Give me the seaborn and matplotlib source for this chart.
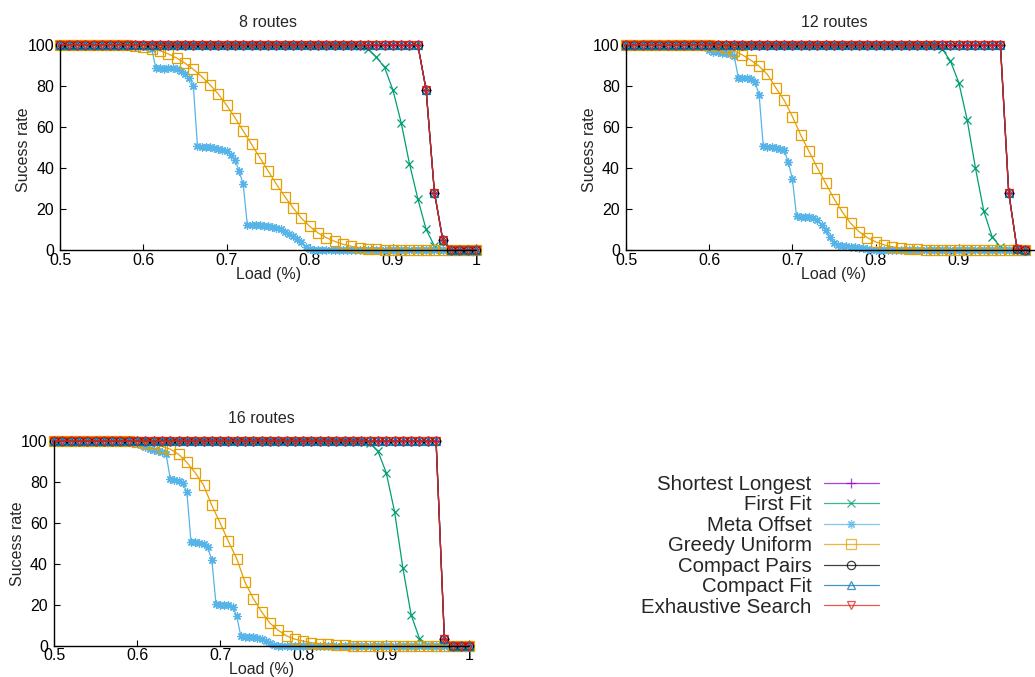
import matplotlib
matplotlib.use("Agg")
import matplotlib.pyplot as plt
import seaborn as sns
from matplotlib.lines import Line2D

# ---------------- data ----------------
# load grid (1 % steps) used by most heuristics
LOAD_A = [0.50, 0.51, 0.52, 0.53, 0.54, 0.55, 0.56, 0.57, 0.58, 0.59,
          0.60, 0.61, 0.62, 0.63, 0.64, 0.65, 0.66, 0.67, 0.68, 0.69,
          0.70, 0.71, 0.72, 0.73, 0.74, 0.75, 0.76, 0.77, 0.78, 0.79,
          0.80, 0.81, 0.82, 0.83, 0.84, 0.85, 0.86, 0.87, 0.88, 0.89,
          0.90, 0.91, 0.92, 0.93, 0.94, 0.95, 0.96, 0.97, 0.98, 0.99, 1.00]
# finer load grid (0.5 % steps) used by Meta Offset
LOAD_B = [0.500, 0.505, 0.510, 0.515, 0.520, 0.525, 0.530, 0.535, 0.540, 0.545,
          0.550, 0.555, 0.560, 0.565, 0.570, 0.575, 0.580, 0.585, 0.590, 0.595,
          0.600, 0.605, 0.610, 0.615, 0.620, 0.625, 0.630, 0.635, 0.640, 0.645,
          0.650, 0.655, 0.660, 0.665, 0.670, 0.675, 0.680, 0.685, 0.690, 0.695,
          0.700, 0.705, 0.710, 0.715, 0.720, 0.725, 0.730, 0.735, 0.740, 0.745,
          0.750, 0.755, 0.760, 0.765, 0.770, 0.775, 0.780, 0.785, 0.790, 0.795,
          0.800, 0.805, 0.810, 0.815, 0.820, 0.825, 0.830, 0.835, 0.840, 0.845,
          0.850, 0.855, 0.860, 0.865, 0.870, 0.875, 0.880, 0.885, 0.890, 0.895,
          0.900, 0.905, 0.910, 0.915, 0.920, 0.925, 0.930, 0.935, 0.940, 0.945,
          0.950, 0.955, 0.960, 0.965, 0.970, 0.975, 0.980, 0.985, 0.990, 0.995, 1.000]

SERIES = ["Shortest Longest", "First Fit", "Meta Offset", "Greedy Uniform",
          "Compact Pairs", "Compact Fit", "Exhaustive Search"]
COLORS = ["#9400D3", "#009E73", "#56B4E9", "#E69F00", "#000000", "#0072B2", "#E51E10"]

# ---- 8 routes ----
top_8 = [100] * 44 + [78, 28, 5] + [0] * 4
ff_8 = [100] * 36 + [99.5, 98, 94, 89, 78, 62, 42, 25, 10, 2] + [0] * 5
gu_8 = [100] * 8 + [99.8, 99.5, 99, 98, 97, 95.5, 93.5, 91, 88, 84.5, 80.5, 76,
                    70.5, 64.5, 58, 51.5, 45, 38.5, 32, 26, 20.5, 15.5, 11.5, 8.3,
                    6, 4.2, 2.8, 1.8, 1.2, 0.7, 0.4, 0.2, 0.1] + [0] * 10
mo_8 = [100] * 20 + [99.5, 99, 98, 88.5, 88.5, 88, 88.5, 88.5, 88, 87, 85.5, 84, 80,
                     50.5, 50, 50, 50, 49.5, 49, 48.5, 48, 46.5, 44, 38.5, 32, 12,
                     12, 12, 12, 11.8, 11.5, 11.2, 10.8, 10, 9, 8, 7, 5.5, 4, 1.5,
                     0.3] + [0] * 40

# ---- 12 routes (plot cut at load 0.98) ----
top_12 = [100] * 46 + [28, 0.5, 0]
ff_12 = [100] * 37 + [99.7, 98, 92, 81.5, 63.5, 40, 19, 6.5, 1.5] + [0] * 3
gu_12 = [100] * 11 + [99.5, 98.5, 97, 95, 92.5, 89.5, 85.5, 79, 73, 65, 56, 48, 40,
                      32.5, 25, 18.5, 13, 9, 6, 4, 2.5, 1.5, 1, 0.5, 0.3, 0.1] + [0] * 12
mo_12 = [100] * 19 + [99, 97.5, 96.5, 96.5, 96, 96, 95.5, 94.5, 84, 84, 84, 83.5, 82,
                      75.5, 50.5, 50, 50, 49.5, 49.2, 48.5, 43, 34.5, 16.5, 16.3, 16.3,
                      16.2, 15.5, 14.5, 12, 9.5, 6.5, 3.5, 2.4, 2, 1.8, 1.6, 1.4, 1,
                      0.8, 0.4] + [0] * 38

# ---- 16 routes ----
top_16 = [100] * 47 + [3.5] + [0] * 3
ff_16 = [100] * 38 + [99, 95, 84.5, 65.5, 38, 15, 3.5, 0.5] + [0] * 5
gu_16 = [100] * 9 + [99.8, 99.5, 99, 98.3, 97.3, 96, 93.5, 89.5, 84.5, 78.5, 68.5, 60,
                     51, 42.5, 31, 23, 16.5, 11, 7.5, 4.8, 3.2, 2.2, 1.5, 1, 0.6, 0.3,
                     0.1] + [0] * 15
mo_16 = [100] * 20 + [99, 98, 97, 96, 95.5, 95, 94.5, 93.5, 81.5, 81, 80.5, 79.5, 75,
                      50.5, 50.5, 50, 49.5, 48, 42, 20.5, 20, 20, 19.8, 19, 14.5, 4.5,
                      4.4, 4.4, 4.2, 3.8, 3.2, 2.2, 1.2, 0.4] + [0] * 47

PANELS = [
    ("8 routes", [top_8, ff_8, mo_8, gu_8, top_8, top_8, top_8]),
    ("12 routes", [top_12, ff_12, mo_12, gu_12, top_12, top_12, top_12]),
    ("16 routes", [top_16, ff_16, mo_16, gu_16, top_16, top_16, top_16]),
]
XTICKS = [0.5, 0.6, 0.7, 0.8, 0.9, 1.0]
XTICK_LABELS = ["0.5", "0.6", "0.7", "0.8", "0.9", "1"]
# the 12-routes plot runs off the page edge, so its last label is not visible
XTICK_LABELS_CUT = ["0.5", "0.6", "0.7", "0.8", "0.9", ""]
YTICKS = [0, 20, 40, 60, 80, 100]

# ---------------- style ----------------
sns.set_style("white")
plt.rcParams["font.family"] = ["Liberation Sans", "DejaVu Sans"]
FS = 11.5
MARKERS = ["+", "x", (8, 2, 0), "s", "o", "^", "v"]
MSIZES = [7, 6, 6, 6.5, 6, 6, 6]

W, H = 1035, 677
fig = plt.figure(figsize=(W / 100, H / 100), dpi=100)


def px_axes(left, top, right, bottom):
    return fig.add_axes([left / W, 1 - bottom / H, (right - left) / W, (bottom - top) / H])


# pixel boxes of the three plots (the 12-routes plot is cut by the right page edge)
BOXES = [(60.3, 44.7, 476.0, 250.0), (626.0, 44.7, 1042.0, 250.0), (54.0, 441.0, 469.3, 645.7)]
YLAB_POS = [(-0.0897, 0.49), (-0.0889, 0.49), (-0.0884, 0.497)]
XLAB_Y = [-0.119, -0.119, -0.114]
TITLE_Y = [1.1086, 1.108, 1.1075]
TICKLABS = [XTICK_LABELS, XTICK_LABELS_CUT, XTICK_LABELS]

for (title, series), box, ylp, xly, ty, tl in zip(PANELS, BOXES, YLAB_POS, XLAB_Y,
                                                   TITLE_Y, TICKLABS):
    ax = px_axes(*box)
    for name, vals, col, mk, ms in zip(SERIES, series, COLORS, MARKERS, MSIZES):
        xs = (LOAD_B if name == "Meta Offset" else LOAD_A)[:len(vals)]
        sns.lineplot(x=xs, y=vals, ax=ax, color=col, marker=mk, markersize=ms,
                     markeredgecolor=col, markerfacecolor="none", markeredgewidth=0.9,
                     linewidth=0.9, legend=False, estimator=None, sort=False,
                     clip_on=False)
    ax.set_xlim(0.5, 1.0)
    ax.set_ylim(0, 100)
    ax.set_xticks(XTICKS)
    ax.set_xticklabels(tl)
    ax.set_yticks(YTICKS)
    ax.tick_params(axis="both", direction="in", length=4, width=0.8,
                   labelsize=FS, colors="black", bottom=True, left=True)
    ax.tick_params(axis="x", pad=2)
    ax.tick_params(axis="y", pad=4.5)
    sns.despine(ax=ax)
    for sp in ("left", "bottom"):
        ax.spines[sp].set_color("black")
        ax.spines[sp].set_linewidth(1.0)
    ax.set_xlabel("Load (%)", fontsize=FS)
    ax.xaxis.label.set_verticalalignment("center")
    ax.xaxis.set_label_coords(0.5, xly)
    ax.set_ylabel("Sucess rate", fontsize=FS)
    ax.yaxis.label.set_verticalalignment("center")
    ax.yaxis.set_label_coords(*ylp)
    ax.set_title(title, fontsize=FS, y=ty, va="center", pad=0)

handles = [Line2D([], [], color=c, marker=m, markersize=ms, markeredgecolor=c,
                  markerfacecolor="none", markeredgewidth=0.9, linewidth=0.9, alpha=0.75)
           for c, m, ms in zip(COLORS, MARKERS, MSIZES)]
fig.legend(handles, SERIES, loc="upper right", bbox_to_anchor=(879 / W, 1 - 475 / H),
           frameon=False, markerfirst=False, handlelength=2.7, handletextpad=0.6,
           labelspacing=0.07, borderpad=0, borderaxespad=0, fontsize=14.7)

fig.savefig("out.png", dpi=100)
